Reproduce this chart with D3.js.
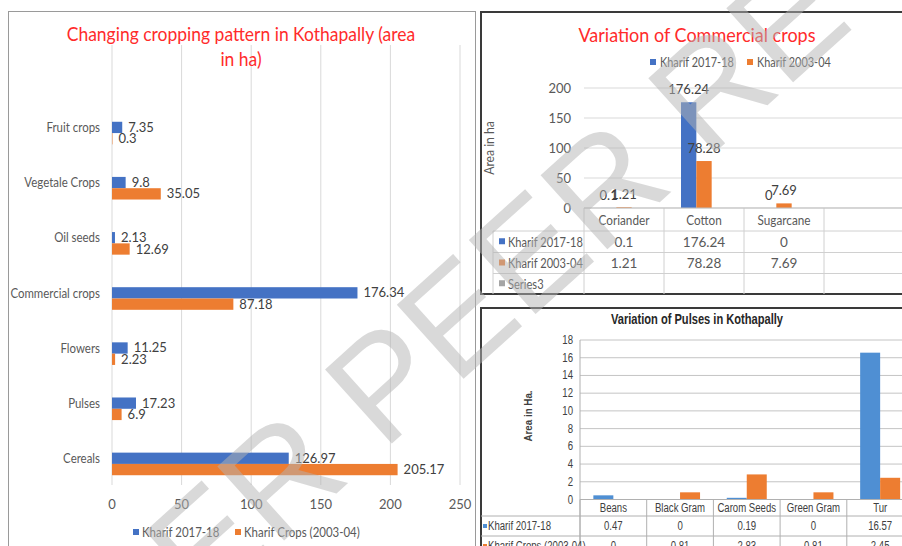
<!DOCTYPE html>
<html>
<head>
<meta charset="utf-8">
<script src="https://cdnjs.cloudflare.com/ajax/libs/d3/7.8.5/d3.min.js"></script>
<style>
  body { margin: 0; background: #fff; }
  svg { display: block; }
</style>
</head>
<body>
<div id="content"></div>
<script>
// ---- data ----
var cropCats = ["Fruit crops", "Vegetale Crops", "Oil seeds", "Commercial crops", "Flowers", "Pulses", "Cereals"];
var crop2017 = [7.35, 9.8, 2.13, 176.34, 11.25, 17.23, 126.97];
var crop2003 = [0.3, 35.05, 12.69, 87.18, 2.23, 6.9, 205.17];
var cropTicks = [0, 50, 100, 150, 200, 250];
var cropSeries = ["Kharif 2017-18", "Kharif Crops (2003-04)"];

var commCats = ["Coriander", "Cotton", "Sugarcane"];
var comm2017 = [0.1, 176.24, 0];
var comm2003 = [1.21, 78.28, 7.69];
var commTicks = [0, 50, 100, 150, 200];
var commSeries = ["Kharif 2017-18", "Kharif 2003-04", "Series3"];

var pulseCats = ["Beans", "Black Gram", "Carom Seeds", "Green Gram", "Tur"];
var pulse2017 = [0.47, 0, 0.19, 0, 16.57];
var pulse2003 = [0, 0.81, 2.83, 0.81, 2.45];
var pulseTicks = [0, 2, 4, 6, 8, 10, 12, 14, 16, 18];
var pulseSeries = ["Kharif 2017-18", "Kharif Crops (2003-04)"];

var blue = "#4472c4", orange = "#ed7d31", grey = "#a5a5a5", lightBlue = "#4f8fd3";
var red = "#ff2b2b";
var font = "Lato, 'Open Sans', sans-serif";
var narrow = "'Liberation Sans Narrow', 'Arial Narrow', 'Liberation Sans', sans-serif";

var svg = d3.select("#content").append("svg")
            .attr("width", 902)
            .attr("height", 546);
svg.append("rect").attr("width", 902).attr("height", 546).attr("fill", "#fff");

// squeeze text horizontally (no narrow fonts installed)
function squeeze(sel, k) {
  sel.each(function(){
    var len = this.getComputedTextLength();
    if (len > 0) {
      d3.select(this).attr("textLength", len * k).attr("lengthAdjust", "spacingAndGlyphs");
    }
  });
}

// ================= left: cropping pattern =================
var g1 = svg.append("g").attr("font-family", font);
g1.append("rect")
  .attr("x", 8.5).attr("y", 11.5).attr("width", 467).attr("height", 560)
  .attr("fill", "#fff").attr("stroke", "#9a9a9a");

var x1 = d3.scaleLinear().domain([0, 250]).range([112, 460]);
var y1 = d3.scaleBand().domain(cropCats).range([105.5, 491.5]);
var barH1 = 11.3;

g1.selectAll("line.grid").data(cropTicks).enter().append("line")
  .attr("x1", function(d){ return x1(d); })
  .attr("x2", function(d){ return x1(d); })
  .attr("y1", 45).attr("y2", 485)
  .attr("stroke", "#d9d9d9");

g1.selectAll("text.tick").data(cropTicks).enter().append("text")
  .attr("x", function(d){ return x1(d); })
  .attr("y", 508.5)
  .attr("text-anchor", "middle")
  .attr("font-size", 13)
  .attr("fill", "#595959")
  .text(function(d){ return d; });

var title1 = g1.append("text")
  .attr("text-anchor", "middle")
  .attr("font-size", 19)
  .attr("fill", red);
title1.append("tspan").attr("x", 241).attr("y", 41).text("Changing cropping pattern in Kothapally (area");
title1.append("tspan").attr("x", 241).attr("y", 66).text("in ha)");
squeeze(title1.selectAll("tspan"), 0.92);

var catText1 = g1.selectAll("text.cat").data(cropCats).enter().append("text")
  .attr("x", 100)
  .attr("y", function(d){ return y1(d) + y1.bandwidth()/2 - 1; })
  .attr("text-anchor", "end")
  .attr("font-size", 13)
  .attr("fill", "#595959")
  .text(function(d){ return d; });
squeeze(catText1, 0.88);

var cropData = [
  {name: cropSeries[0], values: crop2017, color: blue, off: -barH1},
  {name: cropSeries[1], values: crop2003, color: orange, off: 0}
];
cropData.forEach(function(s){
  g1.selectAll(null).data(cropCats).enter().append("rect")
    .attr("x", x1(0))
    .attr("y", function(d){ return y1(d) + y1.bandwidth()/2 + s.off; })
    .attr("width", function(d, i){ return x1(s.values[i]) - x1(0); })
    .attr("height", barH1)
    .attr("fill", s.color);
  g1.selectAll(null).data(cropCats).enter().append("text")
    .attr("x", function(d, i){ return x1(s.values[i]) + 6; })
    .attr("y", function(d){ return y1(d) + y1.bandwidth()/2 + s.off + barH1/2 + 4.5; })
    .attr("font-size", 13)
    .attr("fill", "#404040")
    .text(function(d, i){ return s.values[i]; });
});

var leg1 = [{x: 133, label: cropSeries[0], color: blue}, {x: 235, label: cropSeries[1], color: orange}];
leg1.forEach(function(l){
  g1.append("rect").attr("x", l.x).attr("y", 529).attr("width", 6).attr("height", 6).attr("fill", l.color);
  var t = g1.append("text").attr("x", l.x + 9).attr("y", 536.5).attr("font-size", 13)
    .attr("fill", "#595959").text(l.label);
  squeeze(t, 0.88);
});

// ================= top right: commercial crops =================
var g2 = svg.append("g").attr("font-family", font);
g2.append("rect")
  .attr("x", 481).attr("y", 12).attr("width", 440).attr("height", 282)
  .attr("fill", "#fff").attr("stroke", "#3a3a3a").attr("stroke-width", 2);

var x2 = d3.scaleBand().domain(commCats).range([584, 824]);
var x2in = d3.scaleBand().domain(commSeries).range([17, 63]);
var y2 = d3.scaleLinear().domain([0, 200]).range([208, 88]);

g2.selectAll("line.grid").data(commTicks).enter().append("line")
  .attr("x1", 584).attr("x2", 910)
  .attr("y1", function(d){ return y2(d); })
  .attr("y2", function(d){ return y2(d); })
  .attr("stroke", "#d9d9d9");

g2.selectAll("text.tick").data(commTicks).enter().append("text")
  .attr("x", 571)
  .attr("y", function(d){ return y2(d) + 4.5; })
  .attr("text-anchor", "end")
  .attr("font-size", 13)
  .attr("fill", "#595959")
  .text(function(d){ return d; });

var title2 = g2.append("text").attr("x", 697).attr("y", 42)
  .attr("text-anchor", "middle").attr("font-size", 20).attr("fill", red)
  .text("Variation of Commercial crops");
squeeze(title2, 0.9);

var yTitle2 = g2.append("text")
  .attr("transform", "translate(494,148) rotate(-90)")
  .attr("text-anchor", "middle").attr("font-size", 13.5).attr("fill", "#595959")
  .text("Area in ha");
squeeze(yTitle2, 0.9);

var leg2 = [{x: 650, label: commSeries[0], color: blue}, {x: 747, label: commSeries[1], color: orange}];
leg2.forEach(function(l){
  g2.append("rect").attr("x", l.x).attr("y", 59).attr("width", 6).attr("height", 6).attr("fill", l.color);
  var t = g2.append("text").attr("x", l.x + 10).attr("y", 66.5).attr("font-size", 13)
    .attr("fill", "#595959").text(l.label);
  squeeze(t, 0.84);
});

var commData = [
  {name: commSeries[0], values: comm2017, color: blue},
  {name: commSeries[1], values: comm2003, color: orange}
];
commData.forEach(function(s){
  g2.selectAll(null).data(commCats).enter().append("rect")
    .attr("x", function(d){ return x2(d) + x2in(s.name); })
    .attr("y", function(d, i){ return y2(s.values[i]); })
    .attr("width", x2in.bandwidth())
    .attr("height", function(d, i){ return y2(0) - y2(s.values[i]); })
    .attr("fill", s.color);
  g2.selectAll(null).data(commCats).enter().append("text")
    .attr("x", function(d){ return x2(d) + x2in(s.name) + x2in.bandwidth()/2; })
    .attr("y", function(d, i){ return y2(s.values[i]) - 8; })
    .attr("text-anchor", "middle")
    .attr("font-size", 13)
    .attr("fill", "#404040")
    .text(function(d, i){ return s.values[i]; });
});

// data table under the commercial chart
var tabCol = "#d0d0d0";
var rows2 = [208, 231, 252.5, 273.5, 294];
var colEdges2 = commCats.map(function(c){ return x2(c); }).concat([x2.range()[1]]);
colEdges2.forEach(function(x){
  g2.append("line").attr("x1", x).attr("x2", x).attr("y1", rows2[0]).attr("y2", rows2[4]).attr("stroke", tabCol);
});
g2.append("line").attr("x1", 493).attr("x2", 493).attr("y1", rows2[1]).attr("y2", rows2[4]).attr("stroke", tabCol);
[1, 2, 3].forEach(function(r){
  g2.append("line").attr("x1", 493).attr("x2", 910).attr("y1", rows2[r]).attr("y2", rows2[r]).attr("stroke", tabCol);
});
g2.append("line").attr("x1", 584).attr("x2", 910).attr("y1", y2(0)).attr("y2", y2(0)).attr("stroke", "#bfbfbf");

var catText2 = g2.selectAll("text.cat").data(commCats).enter().append("text")
  .attr("x", function(d){ return x2(d) + x2.bandwidth()/2; })
  .attr("y", (rows2[0] + rows2[1]) / 2 + 5)
  .attr("text-anchor", "middle").attr("font-size", 13.5).attr("fill", "#595959")
  .text(function(d){ return d; });
squeeze(catText2, 0.87);

var tabSeries2 = [
  {name: commSeries[0], values: comm2017, color: blue},
  {name: commSeries[1], values: comm2003, color: orange},
  {name: commSeries[2], values: null, color: grey}
];
tabSeries2.forEach(function(s, r){
  var cy = (rows2[r + 1] + rows2[r + 2]) / 2;
  g2.append("rect").attr("x", 499).attr("y", cy - 3.5).attr("width", 6).attr("height", 6).attr("fill", s.color);
  var t = g2.append("text").attr("x", 508).attr("y", cy + 5).attr("font-size", 13.5)
    .attr("fill", "#595959").text(s.name);
  squeeze(t, 0.82);
  if (s.values) {
    g2.selectAll(null).data(commCats).enter().append("text")
      .attr("x", function(d){ return x2(d) + x2.bandwidth()/2; })
      .attr("y", cy + 5)
      .attr("text-anchor", "middle").attr("font-size", 13.5).attr("fill", "#595959")
      .text(function(d, i){ return s.values[i]; });
  }
});

// ================= bottom right: pulses =================
var g3 = svg.append("g").attr("font-family", narrow);
g3.append("rect")
  .attr("x", 481).attr("y", 308).attr("width", 440).attr("height", 260)
  .attr("fill", "#fff").attr("stroke", "#3a3a3a").attr("stroke-width", 2);

var x3 = d3.scaleBand().domain(pulseCats).range([580, 913.5]);
var y3 = d3.scaleLinear().domain([0, 18]).range([499.5, 340]);
var barW3 = 20;

g3.selectAll("line.grid").data(pulseTicks).enter().append("line")
  .attr("x1", 580).attr("x2", 910)
  .attr("y1", function(d){ return y3(d); })
  .attr("y2", function(d){ return y3(d); })
  .attr("stroke", "#c4c4c4");
g3.append("line").attr("x1", 580).attr("x2", 580).attr("y1", y3(18)).attr("y2", 546).attr("stroke", "#b0b0b0");

var tick3 = g3.selectAll("text.tick").data(pulseTicks).enter().append("text")
  .attr("x", 573)
  .attr("y", function(d){ return y3(d) + 4; })
  .attr("text-anchor", "end")
  .attr("font-size", 12)
  .attr("fill", "#404040")
  .text(function(d){ return d; });
squeeze(tick3, 0.8);

var title3 = g3.append("text").attr("x", 697).attr("y", 323.5)
  .attr("text-anchor", "middle").attr("font-size", 15).attr("font-weight", "bold").attr("fill", "#262626")
  .text("Variation of Pulses in Kothapally");
squeeze(title3, 0.74);

var yTitle3 = g3.append("text")
  .attr("transform", "translate(532,416) rotate(-90)")
  .attr("text-anchor", "middle").attr("font-size", 11.5).attr("font-weight", "bold").attr("fill", "#404040")
  .text("Area in Ha.");
squeeze(yTitle3, 0.85);

var pulseData = [
  {values: pulse2017, color: lightBlue, off: -barW3},
  {values: pulse2003, color: orange, off: 0}
];
pulseData.forEach(function(s){
  g3.selectAll(null).data(pulseCats).enter().append("rect")
    .attr("x", function(d){ return x3(d) + x3.bandwidth()/2 + s.off; })
    .attr("y", function(d, i){ return y3(s.values[i]); })
    .attr("width", barW3)
    .attr("height", function(d, i){ return y3(0) - y3(s.values[i]); })
    .attr("fill", s.color);
});

var rows3 = [499.5, 516, 536, 556];
pulseCats.map(function(c){ return x3(c); }).concat([x3.range()[1]]).forEach(function(x){
  g3.append("line").attr("x1", x).attr("x2", x).attr("y1", rows3[0]).attr("y2", 546).attr("stroke", "#b0b0b0");
});
[1, 2].forEach(function(r){
  g3.append("line").attr("x1", 481).attr("x2", 910).attr("y1", rows3[r]).attr("y2", rows3[r]).attr("stroke", "#b0b0b0");
});
g3.append("line").attr("x1", 580).attr("x2", 910).attr("y1", rows3[0]).attr("y2", rows3[0]).attr("stroke", "#b0b0b0");

var catText3 = g3.selectAll("text.cat").data(pulseCats).enter().append("text")
  .attr("x", function(d){ return x3(d) + x3.bandwidth()/2; })
  .attr("y", (rows3[0] + rows3[1]) / 2 + 4)
  .attr("text-anchor", "middle").attr("font-size", 12).attr("fill", "#404040")
  .text(function(d){ return d; });
squeeze(catText3, 0.8);

var tabSeries3 = [
  {name: pulseSeries[0], values: pulse2017, color: lightBlue},
  {name: pulseSeries[1], values: pulse2003, color: orange}
];
tabSeries3.forEach(function(s, r){
  var cy = (rows3[r + 1] + rows3[r + 2]) / 2;
  g3.append("rect").attr("x", 483).attr("y", cy - 2).attr("width", 4).attr("height", 4).attr("fill", s.color);
  var t = g3.append("text").attr("x", 488).attr("y", cy + 4).attr("font-size", 12)
    .attr("fill", "#404040").text(s.name);
  squeeze(t, 0.8);
  var v = g3.selectAll(null).data(pulseCats).enter().append("text")
    .attr("x", function(d){ return x3(d) + x3.bandwidth()/2; })
    .attr("y", cy + 4)
    .attr("text-anchor", "middle").attr("font-size", 12).attr("fill", "#404040")
    .text(function(d, i){ return s.values[i]; });
  squeeze(v, 0.8);
});

// ================= watermark =================
svg.append("text")
  .attr("transform", "translate(525,272) rotate(-42)")
  .attr("text-anchor", "middle")
  .attr("dominant-baseline", "middle")
  .attr("font-family", "'Liberation Sans', sans-serif")
  .attr("font-size", 145)
  .attr("fill", "#b4b4b4")
  .attr("opacity", 0.5)
  .text("UNDER PEER REVIEW");
</script>
</body>
</html>
